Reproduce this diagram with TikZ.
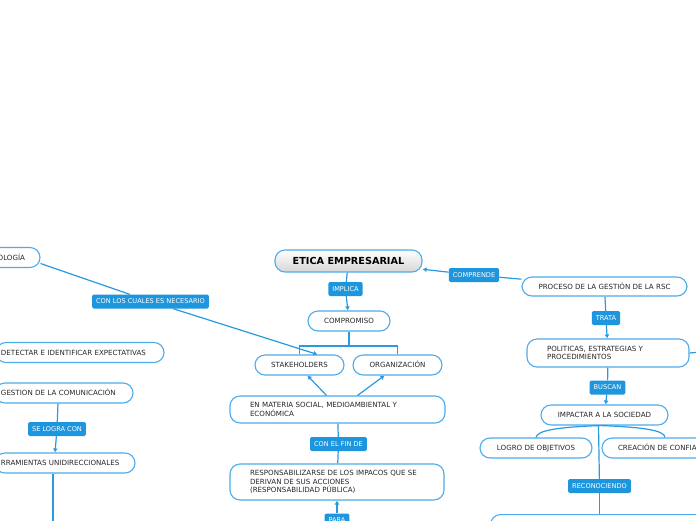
\documentclass[tikz,border=0pt]{standalone}
\usepackage{fontspec}
\setmainfont{DejaVu Sans}
\usetikzlibrary{arrows.meta}

\definecolor{mapblue}{RGB}{42,154,224}
\definecolor{boxline}{RGB}{78,172,234}
\definecolor{tagfill}{RGB}{30,150,222}

\begin{document}
\begin{tikzpicture}[x=1pt,y=-1pt,
    >={Latex[length=4pt,width=5pt]},
    idea/.style={draw=boxline, line width=1.1pt, rounded corners=10pt, fill=white,
      minimum height=20pt, text=black!85, font=\fontsize{7.1}{8.6}\selectfont},
    oneline/.style={idea, text height=5.2pt, text depth=0pt},
    title/.style={top color=white, bottom color=black!16, text=black,
      font=\bfseries\fontsize{9.7}{11}\selectfont},
    tag/.style={fill=tagfill, rounded corners=1.5pt, text=white, inner xsep=4pt,
      inner ysep=2pt, minimum height=14pt, font=\fontsize{6.6}{7.5}\selectfont},
    link/.style={draw=mapblue, line width=1.2pt}]
  \useasboundingbox (0,0) rectangle (696,520);
  \clip (0,0) rectangle (696,520);
  \fill[white] (0,0) rectangle (696,520);

  % centre
  \node[oneline, title, minimum width=147, minimum height=22, text height=7pt, text depth=0pt] (etica) at (348.5,261) {ETICA EMPRESARIAL};
  \node[tag] (implica) at (345.5,289) {IMPLICA};
  \node[oneline, minimum width=82] (compromiso) at (349,321) {COMPROMISO};
  \node[oneline, minimum width=89] (stake) at (299.5,365) {STAKEHOLDERS};
  \node[oneline, minimum width=89] (organiz) at (397.5,365) {ORGANIZACIÓN};
  \node[idea, minimum width=215, minimum height=27, text width=175, align=left] (materia) at (337.5,409.5)
    {EN MATERIA SOCIAL, MEDIOAMBIENTAL Y\\ECONÓMICA};
  \node[tag] (fin) at (338.5,444) {CON EL FIN DE};
  \node[idea, minimum width=214, minimum height=36, text width=174, align=left] (resp) at (337,482)
    {RESPONSABILIZARSE DE LOS IMPACOS QUE SE\\DERIVAN DE SUS ACCIONES\\(RESPONSABILIDAD PÚBLICA)};
  \node[tag] (para) at (337,520.5) {PARA};

  % right branch
  \node[tag] (comprende) at (474,275) {COMPRENDE};
  \node[oneline, minimum width=165, minimum height=19] (proceso) at (604.5,286.5) {PROCESO DE LA GESTIÓN DE LA RSC};
  \node[tag] (trata) at (606,318) {TRATA};
  \node[idea, minimum width=162, minimum height=28, text width=122, align=left] (politicas) at (608,353)
    {POLITICAS, ESTRATEGIAS Y\\PROCEDIMIENTOS};
  \node[tag] (buscan) at (607.5,387.5) {BUSCAN};
  \node[oneline, minimum width=127] (impactar) at (604.5,415) {IMPACTAR A LA SOCIEDAD};
  \node[oneline, minimum width=112] (logro) at (536,448) {LOGRO DE OBJETIVOS};
  \node[oneline, minimum width=126, text width=94, align=left] (creacion) at (665,448) {CREACIÓN DE CONFIA};
  \node[tag] (recon) at (599.5,486) {RECONOCIENDO};
  \node[idea, anchor=north west, minimum width=300, minimum height=30] (bottom) at (490,514) {};

  % left branch
  \node[oneline, minimum width=110, text width=80, align=right] (ologia) at (-15,257.5) {OLOGÍA};
  \node[tag] (cuales) at (150.5,301.5) {CON LOS CUALES ES NECESARIO};
  \node[oneline, minimum width=168, text width=158, align=left] (detectar) at (80,352.5) {DETECTAR E IDENTIFICAR EXPECTATIVAS};
  \node[oneline, minimum width=138, text width=126, align=left] (gestion) at (64,393) {GESTION DE LA COMUNICACIÓN};
  \node[tag] (selogra) at (57,429) {SE LOGRA CON};
  \node[oneline, minimum width=140, text width=128, align=left] (herram) at (65,463) {RRAMIENTAS UNIDIRECCIONALES};

  % connectors
  \coordinate (fork) at (349,346);
  \draw[link] (etica) -- (implica);
  \draw[link,->] (implica) -- (compromiso);
  \draw[link] (compromiso) -- (fork) -| (stake);
  \draw[link] (fork) -| (organiz);
  \draw[link,->] ([xshift=-11]materia.north) -- ([xshift=8]stake.south);
  \draw[link,->] ([xshift=20]materia.north) -- ([xshift=-13]organiz.south);
  \draw[link] (materia) -- (fin);
  \draw[link] (fin) -- (resp);
  \draw[link,->] (para) -- (resp);

  \draw[link] (proceso) -- (comprende);
  \draw[link,->] (comprende) -- (etica);
  \draw[link] (proceso) -- (trata);
  \draw[link,->] (trata) -- (politicas);
  \draw[link] (politicas.east) -- ++(12,-1);
  \draw[link] (politicas) -- (buscan);
  \draw[link,->] (buscan) -- (impactar);
  \draw[link] ([xshift=-4]impactar.south) .. controls (560,427) and (537,430) .. (logro.north);
  \draw[link] ([xshift=-4]impactar.south) .. controls (640,427) and (665,430) .. (creacion.north);
  \draw[link] ([xshift=-6]impactar.south) -- (recon);
  \draw[link] (recon) -- (recon |- bottom.north);

  \draw[link] ([yshift=-6]ologia.east) -- (cuales);
  \draw[link,->] (cuales) -- ([xshift=18]stake.north);
  \draw[link] ([xshift=-6]gestion.south) -- (selogra);
  \draw[link,->] (selogra) -- ([xshift=-10]herram.north);
  \draw[link] ([xshift=-12]herram.south) -- ++(0,60); % goes on below
\end{tikzpicture}
\end{document}
